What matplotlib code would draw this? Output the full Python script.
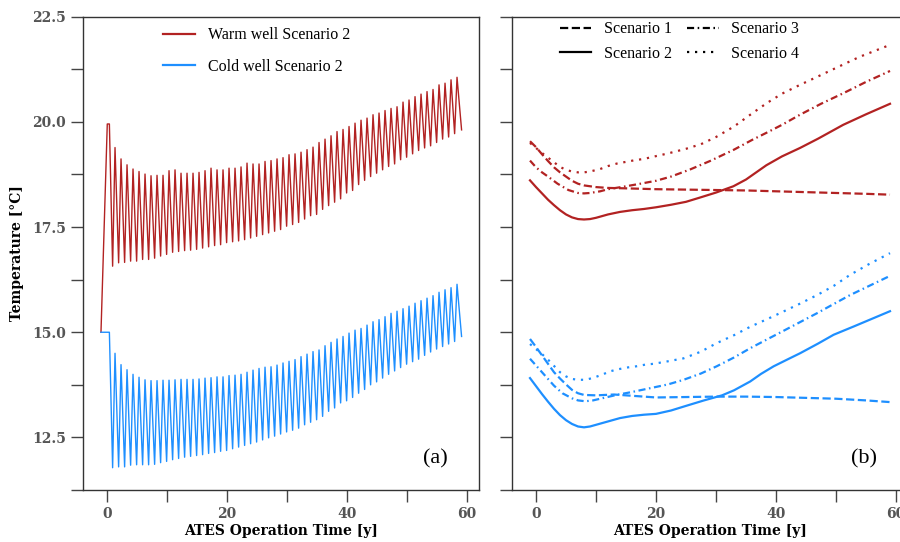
import numpy as np
import matplotlib
matplotlib.use("Agg")
import matplotlib.pyplot as plt
from matplotlib.ticker import MultipleLocator, FuncFormatter

# --- panel (a): yearly extraction/injection cycles, scenario 2 ---
cycle_years = np.arange(1, 59)

warm_peaks = [19.39, 19.12, 18.98, 18.88, 18.82, 18.76, 18.72, 18.73, 18.73, 18.84,
              18.86, 18.78, 18.78, 18.78, 18.80, 18.84, 18.90, 18.86, 18.86, 18.90,
              18.90, 18.93, 19.02, 19.00, 19.00, 19.06, 19.08, 19.12, 19.15, 19.22,
              19.24, 19.28, 19.34, 19.40, 19.51, 19.59, 19.67, 19.77, 19.82, 19.89,
              19.97, 20.04, 20.09, 20.17, 20.21, 20.27, 20.32, 20.36, 20.47, 20.52,
              20.60, 20.66, 20.72, 20.77, 20.88, 20.92, 21.00, 21.06]
warm_troughs = [16.57, 16.65, 16.66, 16.69, 16.69, 16.73, 16.73, 16.76, 16.81, 16.85,
                16.90, 16.92, 16.94, 16.95, 16.97, 17.00, 17.03, 17.06, 17.08, 17.13,
                17.15, 17.17, 17.20, 17.24, 17.28, 17.32, 17.36, 17.40, 17.44, 17.52,
                17.56, 17.61, 17.69, 17.77, 17.80, 17.92, 18.01, 18.09, 18.17, 18.31,
                18.37, 18.51, 18.61, 18.70, 18.78, 18.86, 18.94, 19.00, 19.10, 19.16,
                19.24, 19.32, 19.38, 19.43, 19.51, 19.59, 19.64, 19.72]
cold_peaks = [14.50, 14.23, 14.11, 14.00, 13.93, 13.87, 13.85, 13.85, 13.86, 13.86,
              13.87, 13.88, 13.88, 13.88, 13.89, 13.91, 13.92, 13.94, 13.94, 13.97,
              13.98, 14.00, 14.05, 14.10, 14.14, 14.17, 14.18, 14.22, 14.27, 14.31,
              14.35, 14.42, 14.48, 14.54, 14.58, 14.68, 14.76, 14.84, 14.90, 14.98,
              15.05, 15.09, 15.17, 15.25, 15.30, 15.37, 15.45, 15.50, 15.56, 15.62,
              15.69, 15.75, 15.81, 15.87, 15.95, 16.01, 16.06, 16.14]
cold_troughs = [11.78, 11.80, 11.80, 11.84, 11.85, 11.85, 11.85, 11.86, 11.90, 11.93,
                11.97, 12.00, 12.03, 12.05, 12.07, 12.09, 12.12, 12.14, 12.17, 12.19,
                12.23, 12.27, 12.31, 12.35, 12.39, 12.44, 12.49, 12.53, 12.58, 12.63,
                12.67, 12.72, 12.80, 12.86, 12.92, 13.00, 13.12, 13.20, 13.32, 13.37,
                13.45, 13.55, 13.64, 13.75, 13.82, 13.91, 14.00, 14.08, 14.16, 14.24,
                14.30, 14.36, 14.45, 14.53, 14.60, 14.66, 14.72, 14.78]

# start-up (first injection) and last partial season
warm_start_t = [-1.0, 0.05, 0.4]
warm_start_T = [15.0, 19.95, 19.95]
cold_start_t = [-1.0, 0.4]
cold_start_T = [15.0, 15.0]
end_t = 59.1
warm_end_T = 19.81
cold_end_T = 14.90

# --- panel (b): smoothed well temperatures for the four scenarios ---
warm_s1_t = [-1, 0, 1, 2, 3, 4, 5, 6, 7, 8, 10, 12, 15, 20, 25, 30, 35, 40, 45, 50, 55, 59]
warm_s1_T = [19.54, 19.40, 19.23, 19.07, 18.92, 18.80, 18.70, 18.60, 18.53, 18.49, 18.45,
             18.43, 18.42, 18.40, 18.39, 18.38, 18.37, 18.35, 18.33, 18.31, 18.29, 18.27]
warm_s2_t = [-1, 0, 1, 2, 3, 4, 5, 6, 7, 8, 9, 10, 12, 14, 16, 18, 20, 22.5, 25, 27.3,
             30, 32.9, 35, 38.4, 41, 44, 47, 51.2, 55, 59]
warm_s2_T = [18.61, 18.45, 18.30, 18.15, 18.02, 17.90, 17.80, 17.73, 17.69, 17.68, 17.69,
             17.72, 17.80, 17.86, 17.90, 17.93, 17.97, 18.03, 18.10, 18.20, 18.32, 18.47,
             18.63, 18.97, 19.18, 19.38, 19.60, 19.93, 20.18, 20.43]
warm_s3_t = [-1, 0, 1, 2, 3.6, 5.4, 7, 8, 9, 10.7, 12, 14.6, 17, 20, 22.5, 25.7, 29, 33,
             36, 38.4, 41, 44, 47.5, 51.2, 55, 59]
warm_s3_T = [19.08, 18.92, 18.80, 18.70, 18.53, 18.38, 18.31, 18.30, 18.31, 18.35, 18.40,
             18.46, 18.52, 18.60, 18.70, 18.87, 19.07, 19.34, 19.57, 19.74, 19.93, 20.17,
             20.43, 20.68, 20.95, 21.21]
warm_s4_t = [-1, 0, 1, 2, 3, 4, 5, 6, 7, 8, 9, 10.7, 12, 13.5, 15, 16.5, 18, 19.5, 22, 25,
             27.5, 30, 33, 36, 38.5, 41, 44, 47, 51, 54, 59]
warm_s4_T = [19.50, 19.38, 19.26, 19.15, 19.04, 18.93, 18.86, 18.82, 18.80, 18.80, 18.82,
             18.88, 18.95, 19.01, 19.05, 19.09, 19.12, 19.17, 19.25, 19.36, 19.47, 19.64,
             19.89, 20.20, 20.45, 20.67, 20.88, 21.08, 21.35, 21.55, 21.83]

cold_s1_t = [-1, 0, 1, 2, 3, 4, 5, 6, 7, 8, 10, 13, 16, 20, 25, 30, 35, 40, 45, 50, 55, 59]
cold_s1_T = [14.84, 14.65, 14.45, 14.25, 14.05, 13.90, 13.76, 13.63, 13.55, 13.51, 13.50,
             13.52, 13.49, 13.45, 13.46, 13.47, 13.47, 13.46, 13.44, 13.42, 13.38, 13.34]
cold_s2_t = [-1, 0, 1, 2, 3, 4, 5, 6, 7, 8, 9, 10, 12, 14, 16, 18, 20, 22.5, 25, 28, 31,
             33, 35.7, 37.5, 39.6, 42, 44, 47, 49.6, 53, 56, 59]
cold_s2_T = [13.91, 13.72, 13.53, 13.35, 13.18, 13.03, 12.91, 12.82, 12.76, 12.74, 12.76,
             12.80, 12.88, 12.96, 13.01, 13.04, 13.06, 13.14, 13.25, 13.38, 13.50, 13.62,
             13.83, 14.01, 14.19, 14.36, 14.50, 14.73, 14.94, 15.14, 15.32, 15.50]
cold_s3_t = [-1, 0, 1, 2, 3, 4.4, 6, 7, 8.2, 9.5, 11, 13.4, 16, 19, 22, 24.6, 27.5, 30.1,
             33, 35.7, 38.5, 41.2, 44, 46.8, 49.6, 52.3, 55.5, 59]
cold_s3_T = [14.37, 14.21, 14.05, 13.89, 13.73, 13.55, 13.43, 13.38, 13.36, 13.38, 13.43,
             13.51, 13.58, 13.67, 13.76, 13.87, 14.02, 14.19, 14.40, 14.62, 14.83, 15.03,
             15.24, 15.45, 15.67, 15.88, 16.10, 16.34]
cold_s4_t = [-1, 0, 1, 2, 3, 4, 5, 6, 7, 8.2, 9.4, 11, 12.3, 13.7, 15.1, 16.7, 18.2, 19.6,
             22, 24.6, 27.5, 30.1, 33, 35.7, 38.5, 41.2, 44, 46.8, 49.6, 52.3, 55.5, 59]
cold_s4_T = [14.72, 14.60, 14.48, 14.35, 14.20, 14.05, 13.95, 13.89, 13.87, 13.87, 13.91,
             13.99, 14.07, 14.12, 14.16, 14.19, 14.23, 14.25, 14.31, 14.38, 14.54, 14.74,
             14.93, 15.13, 15.31, 15.49, 15.68, 15.88, 16.10, 16.36, 16.62, 16.88]

scenario_labels = ["Scenario 1", "Scenario 2", "Scenario 3", "Scenario 4"]
# dashed, solid, dash-dot, dotted (dash lengths scale with line width)
scenario_styles = [(0, (3.7, 1.6)), "-", (0, (3.2, 1.6, 0.7, 1.6)), (0, (1.0, 2.6))]

WARM = "#b22222"
COLD = "#1e8fff"
TICK_FONT = "DejaVu Serif"
TEXT_FONT = "Liberation Serif"


def sawtooth(start_t, start_T, troughs, peaks, end_T):
    t = list(start_t)
    T = list(start_T)
    for yr, lo, hi in zip(cycle_years, troughs, peaks):
        t += [yr - 0.06, yr + 0.34]
        T += [lo, hi]
    t.append(end_t)
    T.append(end_T)
    return t, T


def style_axes(ax, show_ylabels):
    ax.set_xlim(-4, 62)
    ax.set_ylim(11.25, 22.5)
    ax.xaxis.set_major_locator(MultipleLocator(10))
    ax.yaxis.set_major_locator(MultipleLocator(1.25))
    ax.xaxis.set_major_formatter(FuncFormatter(
        lambda v, p: "%d" % v if round(v) % 20 == 0 else ""))
    if show_ylabels:
        ax.yaxis.set_major_formatter(FuncFormatter(
            lambda v, p: "%.1f" % v if abs(v / 2.5 - round(v / 2.5)) < 1e-6 else ""))
    else:
        ax.yaxis.set_major_formatter(FuncFormatter(lambda v, p: ""))
    ax.tick_params(direction="out", length=8.6, width=1.0, color="#444444",
                   labelcolor="#555555", pad=3.5)
    for lab in ax.get_xticklabels() + ax.get_yticklabels():
        lab.set_fontfamily(TICK_FONT)
        lab.set_fontweight("bold")
        lab.set_fontsize(10)
    for sp in ax.spines.values():
        sp.set_color("#333333")
        sp.set_linewidth(1.0)
    ax.set_xlabel("ATES Operation Time [y]", fontfamily=TICK_FONT,
                  fontweight="bold", fontsize=10, labelpad=2)


fig = plt.figure(figsize=(9, 5.42), dpi=100)
ax1 = fig.add_axes([0.0922, 0.0959, 0.440, 0.8733])
ax2 = fig.add_axes([0.5689, 0.0959, 0.440, 0.8733])

wt, wT = sawtooth(warm_start_t, warm_start_T, warm_troughs, warm_peaks, warm_end_T)
ct, cT = sawtooth(cold_start_t, cold_start_T, cold_troughs, cold_peaks, cold_end_T)
ax1.plot(wt, wT, color=WARM, lw=1.0, label="Warm well Scenario 2")
ax1.plot(ct, cT, color=COLD, lw=1.0, label="Cold well Scenario 2")
style_axes(ax1, True)
ax1.set_ylabel("Temperature [°C]", fontfamily=TICK_FONT, fontweight="bold",
               fontsize=10, labelpad=6)
leg1 = ax1.legend(loc="upper left", bbox_to_anchor=(0.203, 0.978), frameon=False,
                  prop={"family": TEXT_FONT, "size": 11.5}, handlelength=2.0,
                  handletextpad=0.8, labelspacing=1.0, borderpad=0, borderaxespad=0)
for ln in leg1.get_lines():
    ln.set_linewidth(1.6)
ax1.text(0.89, 0.065, "(a)", transform=ax1.transAxes, ha="center", va="center",
         fontfamily=TEXT_FONT, fontsize=16)

warm_sets = [(warm_s1_t, warm_s1_T), (warm_s2_t, warm_s2_T),
             (warm_s3_t, warm_s3_T), (warm_s4_t, warm_s4_T)]
cold_sets = [(cold_s1_t, cold_s1_T), (cold_s2_t, cold_s2_T),
             (cold_s3_t, cold_s3_T), (cold_s4_t, cold_s4_T)]
for (t, T), ls in zip(warm_sets, scenario_styles):
    ax2.plot(t, T, color=WARM, lw=1.6, ls=ls)
for (t, T), ls in zip(cold_sets, scenario_styles):
    ax2.plot(t, T, color=COLD, lw=1.6, ls=ls)
style_axes(ax2, False)

handles = [plt.Line2D([], [], color="black", lw=1.6, ls=ls) for ls in scenario_styles]
ax2.legend(handles, scenario_labels, loc="upper left", ncol=2,
           bbox_to_anchor=(0.12, 0.99), frameon=False,
           prop={"family": TEXT_FONT, "size": 11.5}, handlelength=2.0,
           handletextpad=0.8, labelspacing=0.52, columnspacing=0.9,
           borderpad=0, borderaxespad=0)
ax2.text(0.89, 0.065, "(b)", transform=ax2.transAxes, ha="center", va="center",
         fontfamily=TEXT_FONT, fontsize=16)

fig.savefig("out.png", dpi=100)
